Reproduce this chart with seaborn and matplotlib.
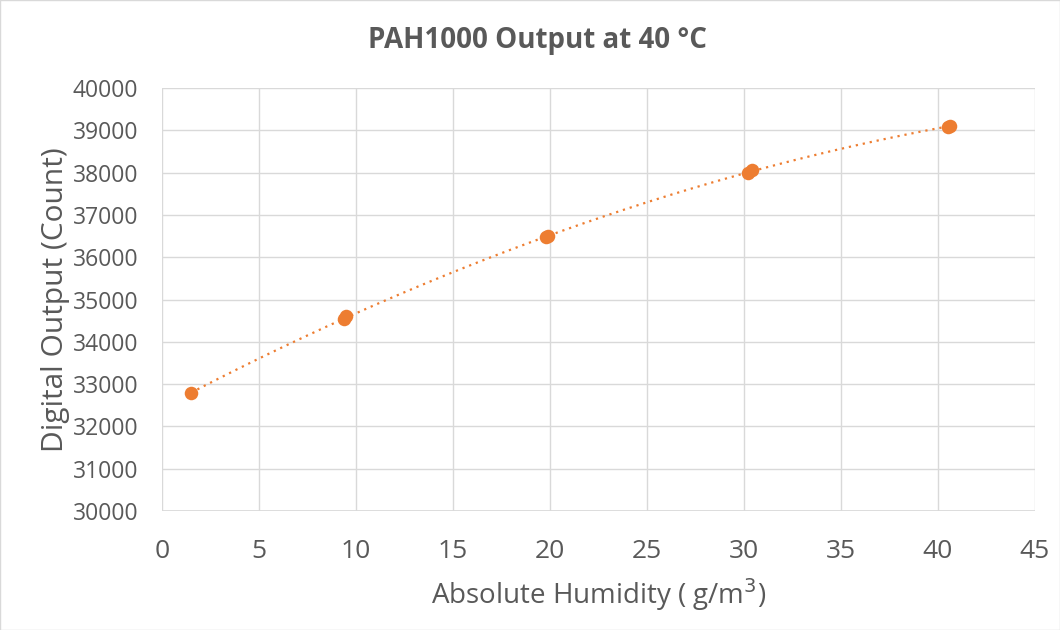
import numpy as np
import pandas as pd
import matplotlib
matplotlib.use("Agg")
import matplotlib.pyplot as plt
import seaborn as sns

humidity = [1.5, 9.4, 9.5, 19.8, 19.9, 30.2, 30.4, 40.5, 40.6]
output = [32800, 34530, 34600, 36470, 36490, 38000, 38070, 39080, 39100]
x_ticks = [0, 5, 10, 15, 20, 25, 30, 35, 40, 45]
y_ticks = [30000, 31000, 32000, 33000, 34000, 35000, 36000, 37000, 38000, 39000, 40000]

df = pd.DataFrame({"h": humidity, "o": output})

sns.set_theme(style="white")
plt.rcParams['font.family'] = ['Open Sans', 'DejaVu Sans']

grey = "#595959"
orange = "#ED7D31"

fig = plt.figure(figsize=(10.6, 6.3), dpi=100)
ax = fig.add_axes([0.1528, 0.1889, 0.9764 - 0.1528, 0.8603 - 0.1889])

# polynomial trendline (order 2)
coef = np.polyfit(df["h"], df["o"], 2)
xs = np.linspace(min(humidity), max(humidity), 200)
trend = pd.DataFrame({"h": xs, "o": np.polyval(coef, xs)})
sns.lineplot(data=trend, x="h", y="o", ax=ax, color=orange, lw=1.6,
             linestyle=(0, (1, 2.2)))
sns.scatterplot(data=df, x="h", y="o", ax=ax, color=orange, s=95,
                edgecolor=orange, linewidth=0, zorder=3)

ax.set_xlim(0, 45)
ax.set_ylim(30000, 40000)
ax.set_xticks(x_ticks)
ax.set_yticks(y_ticks)
ax.set_xticklabels([str(v) for v in x_ticks], fontsize=19, color=grey)
ax.set_yticklabels([str(v) for v in y_ticks], fontsize=16.5, color=grey)
ax.tick_params(axis="y", length=0, pad=17)
ax.tick_params(axis="x", length=0, pad=20)
ax.grid(True, color="#d9d9d9", lw=1)
ax.set_axisbelow(True)
for s in ax.spines.values():
    s.set_visible(False)
ax.axhline(30000, color="#d9d9d9", lw=1.2, zorder=0)

ax.set_xlabel("Absolute Humidity ( g/m$^3$)", fontsize=20, color=grey, labelpad=9)
ax.set_ylabel("Digital Output (Count)", fontsize=21.5, color=grey, labelpad=2)
fig.text(0.507, 0.935, "PAH1000 Output at 40 °C", fontsize=20, fontweight="bold",
         color=grey, ha="center", va="center")

fig.patches.append(plt.Rectangle((0, 0), 1, 1, transform=fig.transFigure,
                                 fill=False, edgecolor="#d9d9d9", lw=1))
fig.savefig("out.png", dpi=100)
